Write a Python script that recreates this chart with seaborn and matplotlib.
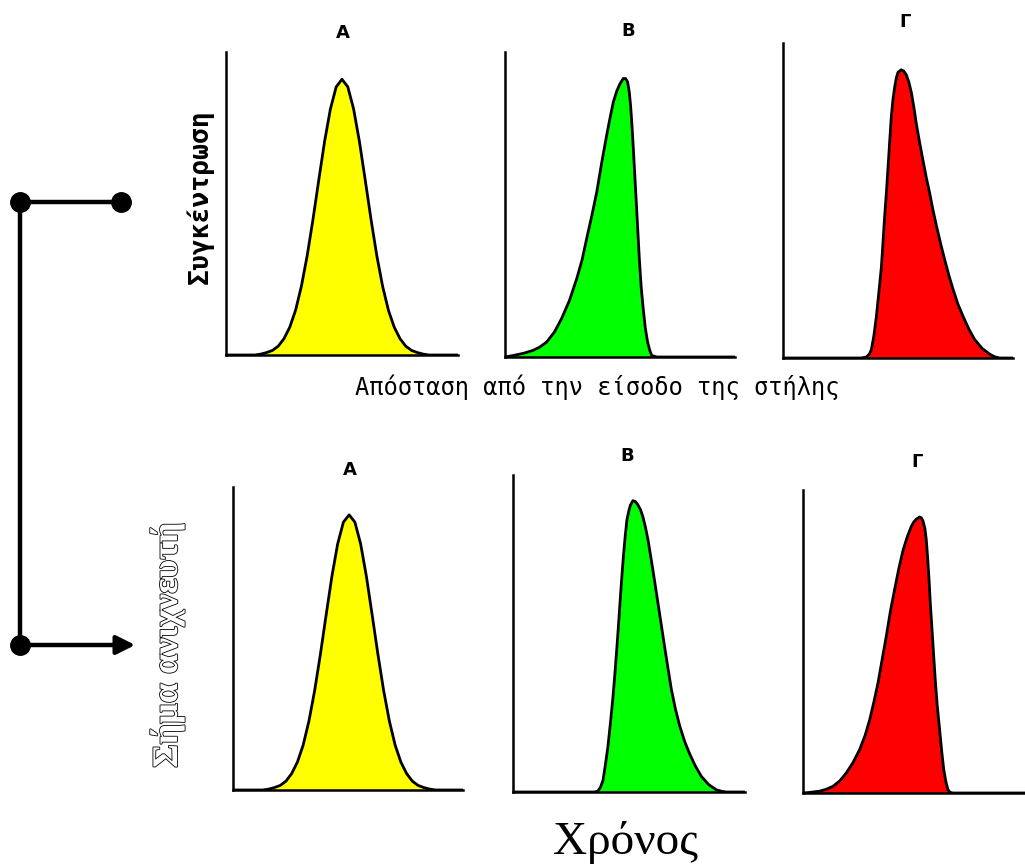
import matplotlib
matplotlib.use("Agg")
import matplotlib.pyplot as plt
import seaborn as sns
from matplotlib import patheffects

# ---- data (x and y in % of each panel's axes) ----
panel_labels = ["A", "B", "Γ"]
peak_colors = ["#FFFF00", "#00FF00", "#FF0000"]

# top row: concentration vs distance from column inlet
x_top_A = [0, 12.5, 15, 17.5, 20, 22.5, 25, 27.5, 30, 32.5, 35, 37.5, 40, 42.5, 45, 47.5, 50,
           52.5, 55, 57.5, 60, 62.5, 65, 67.5, 70, 72.5, 75, 77.5, 80, 82.5, 85, 87.5, 100]
y_top_A = [0, 0, 0.3, 0.8, 1.5, 2.9, 5.4, 9.2, 14.8, 22.7, 32.8, 44.8, 57.8, 70.5, 81.2, 88.5, 91,
           88.5, 81.2, 70.5, 57.8, 44.8, 32.8, 22.7, 14.8, 9.2, 5.4, 2.9, 1.5, 0.8, 0.3, 0, 0]

x_top_B = [0, 3.6, 8, 12.3, 15, 18.1, 21.5, 24.6, 28, 31.2, 33.5, 35.5, 37.8, 39.9, 42, 44.2,
           45.7, 47.1, 48.6, 50.0, 51.4, 52.4, 53.3, 54.0, 54.6, 55.2, 55.8, 56.4, 57.0, 57.7,
           58.4, 59.2, 60.1, 61, 62.0, 63, 63.8, 66, 100]
y_top_B = [0, 0.5, 1.2, 2.2, 3.2, 4.9, 8.2, 12.6, 18.5, 25.7, 31.8, 38.8, 46.5, 54.1, 63.5, 72.7,
           78.5, 83.6, 87.2, 89.6, 91.3, 91.3, 90.2, 87, 82.5, 76, 68.3, 60, 51.9, 42,
           32.2, 23, 15.8, 9.5, 4.9, 2, 0.5, 0, 0]

x_top_G = [0, 34, 36.2, 37.5, 38.4, 39.5, 40.6, 41.7, 42.8, 43.5, 44.2, 45, 45.7, 46.4, 47.1,
           47.8, 48.6, 49.3, 50.0, 51.4, 52.5, 53.6, 54.7, 55.8, 56.9, 58.0, 59.5, 60.9, 62.3,
           63.8, 65.2, 66.7, 68.5, 70.3, 72.1, 73.9, 76, 78.3, 80.8, 83.3, 86.5, 89.9, 92, 94.2, 100]
y_top_G = [0, 0, 0.3, 1.2, 2.6, 7, 13.2, 21, 29.1, 37, 45.0, 53, 60.8, 69, 76.7,
           82, 86.2, 89, 90.7, 91.5, 91.1, 89.9, 87.6, 84.3, 79.6, 74.2, 68, 62.6, 57.3,
           52.2, 47, 42, 36.4, 31.2, 26.3, 21.9, 17.2, 13.2, 9.2, 5.9, 3.1, 1.2, 0.4, 0, 0]

# bottom row: detector signal vs time
x_bot_A = [0, 13, 15.5, 18, 20.5, 23, 25.5, 28, 30.5, 33, 35.5, 38, 40.5, 43, 45.5, 48, 50.5,
           53, 55.5, 58, 60.5, 63, 65.5, 68, 70.5, 73, 75.5, 78, 80.5, 83, 85.5, 88, 100]
y_bot_A = [0, 0, 0.3, 0.8, 1.5, 2.9, 5.4, 9.2, 14.8, 22.7, 32.8, 44.8, 57.8, 70.5, 81.2, 88.4, 90.8,
           88.4, 81.2, 70.5, 57.8, 44.8, 32.8, 22.7, 14.8, 9.2, 5.4, 2.9, 1.5, 0.8, 0.3, 0, 0]

x_bot_B = [0, 35, 36.6, 37.7, 38.8, 39.8, 40.9, 42, 43.1, 44, 44.8, 45.6, 46.3, 47, 47.7, 48.4,
           49.1, 49.9, 50.6, 51.7, 52.8, 53.9, 55, 56.0, 57.1, 58.2, 59.2, 60.3, 61.4, 62.5,
           64, 65.4, 66.8, 68.2, 70, 71.8, 74, 76.1, 78.6, 81.2, 84.4, 87.6, 90, 92, 100]
y_bot_B = [0, 0, 0.3, 1.5, 3.7, 8.5, 14.2, 21.8, 30.0, 38, 45.8, 54, 61.6, 68.8, 75.3, 81,
           85.8, 88.6, 90.5, 91.9, 91.6, 90.5, 89, 86.8, 83.5, 79.5, 75, 70.0, 64.8, 59.5,
           52.3, 45.6, 39, 32.6, 26.2, 21, 15.9, 12.1, 8.2, 4.9, 2.3, 0.7, 0.2, 0, 0]

x_bot_G = [0, 3, 7.2, 10, 13.0, 16, 18.8, 21.7, 24.6, 27, 29.0, 30.8, 32.6, 34.4, 36.2, 38,
           39.9, 41.7, 43.5, 45.3, 47.1, 48.2, 49.3, 50.7, 51.5, 52.2, 53, 53.6, 54.2, 54.8,
           55.4, 56.1, 56.8, 57.5, 58.4, 59.4, 60.3, 61.2, 62.1, 63.0, 64, 65.2, 100]
y_bot_G = [0, 0.2, 0.6, 1.2, 2.2, 4, 6.6, 10, 14.3, 19, 24.2, 30, 36.3, 44, 51.7, 60,
           67.4, 74.2, 80.1, 84.5, 88.0, 89.5, 90.4, 91.1, 90.8, 89.7, 87.3, 83.6, 77.5, 70.4,
           62, 53.9, 45.5, 37.4, 28.5, 20.9, 13.8, 7.7, 3.8, 1.1, 0.2, 0, 0]

top_ylabel = "Συγκέντρωση"
top_xlabel = "Απόσταση από την είσοδο της στήλης"
bot_ylabel = "Σήμα ανιχνευτή"
bot_xlabel = "Χρόνος"

# ---- figure ----
sns.set_theme(style="white")
plt.rcParams["font.family"] = ["DejaVu Sans"]
plt.rcParams["text.color"] = "black"

serif = ["Liberation Serif", "DejaVu Serif"]

W, H = 1025, 865
fig = plt.figure(figsize=(W / 100, H / 100), dpi=100)


def px_axes(x0, base, w, h):
    # pixel box (left, baseline, width, height) -> figure fraction
    return fig.add_axes([x0 / W, 1 - base / H, w / W, h / H])


panels = [
    ((226, 355, 232, 303), x_top_A, y_top_A, peak_colors[0]),
    ((505, 357, 230, 305), x_top_B, y_top_B, peak_colors[1]),
    ((783, 358, 230, 315), x_top_G, y_top_G, peak_colors[2]),
    ((233, 790, 230, 303), x_bot_A, y_bot_A, peak_colors[0]),
    ((513, 792, 232, 317), x_bot_B, y_bot_B, peak_colors[1]),
    ((803, 793, 230, 303), x_bot_G, y_bot_G, peak_colors[2]),
]

for box, xs, ys, col in panels:
    ax = px_axes(*box)
    ax.fill_between(xs, ys, 0, color=col, lw=0)
    sns.lineplot(x=xs, y=ys, ax=ax, color="black", lw=2.0, estimator=None, sort=False)
    ax.set_xlim(0, 100)
    ax.set_ylim(0, 100)
    ax.set_xticks([])
    ax.set_yticks([])
    ax.set_xlabel("")
    ax.set_ylabel("")
    ax.set_facecolor("none")
    for s in ["top", "right"]:
        ax.spines[s].set_visible(False)
    for s in ["left", "bottom"]:
        ax.spines[s].set_color("black")
        ax.spines[s].set_linewidth(1.8)

# overlay in pixel coords for labels and the connector
ov = fig.add_axes([0, 0, 1, 1])
ov.set_xlim(0, W)
ov.set_ylim(H, 0)
ov.axis("off")

title_pos_top = [(343, 33), (628, 31), (905, 22)]
title_pos_bot = [(350, 470), (627, 456), (917, 462)]
for lab, (tx, ty) in zip(panel_labels, title_pos_top):
    ov.text(tx, ty, lab, ha="center", va="center", fontsize=13, fontweight="bold")
for lab, (tx, ty) in zip(panel_labels, title_pos_bot):
    ov.text(tx, ty, lab, ha="center", va="center", fontsize=13, fontweight="bold")

ov.text(200, 197, top_ylabel, rotation=90, ha="center", va="center",
        family="DejaVu Sans Mono", fontsize=19, fontweight="bold")
ov.text(597, 387, top_xlabel, ha="center", va="center",
        family="DejaVu Sans Mono", fontsize=17)

ov.text(168, 645, bot_ylabel, rotation=90, ha="center", va="center",
        family=serif, fontsize=26, fontweight="bold", color="white",
        path_effects=[patheffects.Stroke(linewidth=1.2, foreground="black"), patheffects.Normal()])
ov.text(626, 842, bot_xlabel, ha="center", va="center",
        family=serif, fontsize=34)

# connector from top row to bottom row
ov.plot([121, 20, 20, 118], [202, 202, 645, 645], color="black", lw=3.2,
        solid_joinstyle="miter", solid_capstyle="butt")
ov.plot([20, 121, 20], [202, 202, 645], "o", ms=14, color="black")
ov.annotate("", xy=(138, 645), xytext=(112, 645),
            arrowprops=dict(arrowstyle="-|>", color="black", lw=3.2, mutation_scale=28))

fig.savefig("out.png", dpi=100)
